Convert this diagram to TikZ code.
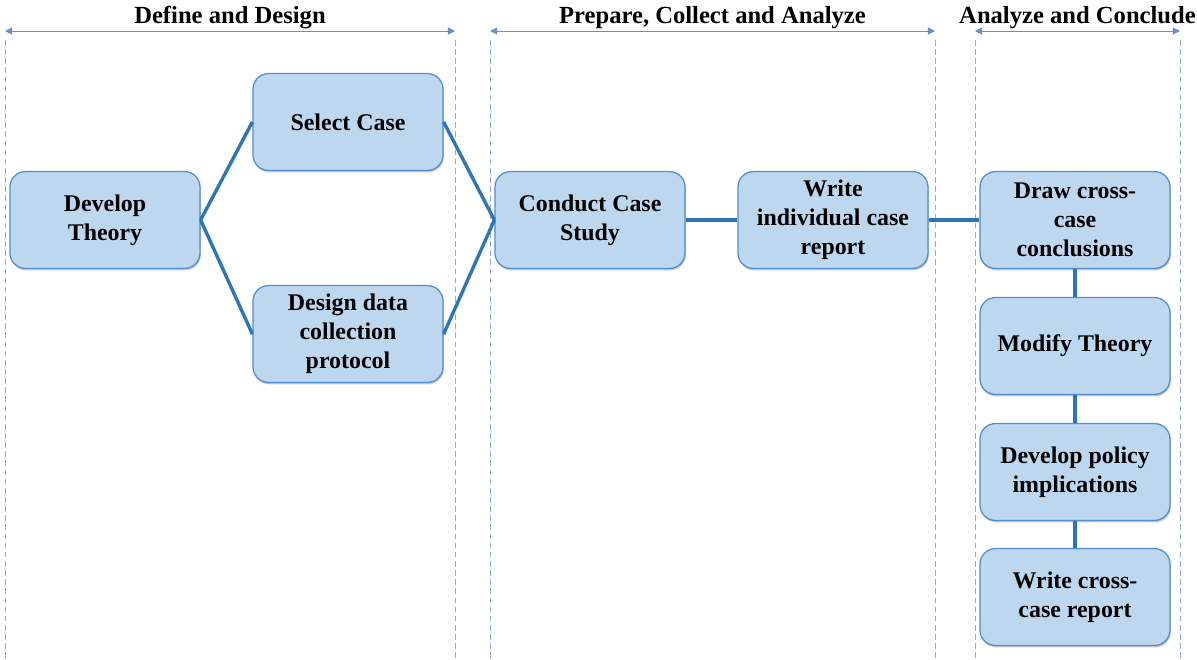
\documentclass[tikz,border=0pt]{standalone}
\usepackage{fontspec}
\setmainfont{Liberation Serif}
\usetikzlibrary{shadows,arrows.meta}
\definecolor{boxfill}{HTML}{BDD7EE}
\definecolor{boxline}{HTML}{4F8FD0}
\definecolor{linkblue}{HTML}{2E75B6}
\definecolor{guideblue}{HTML}{8FAADC}
\definecolor{spanblue}{HTML}{4472C4}
\begin{document}
\begin{tikzpicture}[
  x=0.025cm, y=-0.025cm,
  font=\fontsize{17}{20.6}\selectfont\bfseries,
  step box/.style={draw=boxline, line width=0.9pt, fill=boxfill, rounded corners=11pt,
    minimum width=4.75cm, minimum height=2.42cm, align=center, inner sep=2pt,
    drop shadow={shadow xshift=0.6pt, shadow yshift=-1.4pt, opacity=0.35, fill=black!60}},
  link/.style={linkblue, line width=2.4pt},
  guide/.style={guideblue, line width=0.5pt, dash pattern=on 4pt off 2.5pt},
  span/.style={{Triangle[length=5pt,width=5pt]}-{Triangle[length=5pt,width=5pt]}, spanblue!80, line width=0.7pt},
  phase/.style={text=black, font=\fontsize{17.5}{20}\selectfont\bfseries, anchor=south, inner sep=1pt}
]
\useasboundingbox (0,0) rectangle (1197,659);

% Column x positions for the boxes
\def\cola{105}
\def\colb{348}
\def\colc{590}
\def\cold{833}
\def\cole{1075}

% Phase boundaries (dashed guides) and the arrows above them
\foreach \xl/\xr/\ph/\nm in {5/455/Define and Design/define,
                             490/935/{Prepare, Collect and Analyze}/prepare,
                             975/1180/Analyze and Conclude/conclude}{
  \coordinate (\nm-l) at (\xl, 31);
  \coordinate (\nm-r) at (\xr, 31);
  \draw[guide] (\xl, 40) -- (\xl, 659);
  \draw[guide] (\xr, 40) -- (\xr, 659);
  \draw[span] (\nm-l) -- node[phase, above=0pt] {\ph} (\nm-r);
}

% Boxes
\node[step box] (theory)  at (\cola, 220) {Develop\\Theory};
\node[step box] (select)  at (\colb, 122) {Select Case};
\node[step box] (design)  at (\colb, 334) {Design data\\collection\\protocol};
\node[step box] (conduct) at (\colc, 220) {Conduct Case\\Study};
\node[step box] (report)  at (\cold, 220) {Write\\individual case\\report};
\node[step box] (draw)    at (\cole, 220) {Draw cross-\\case\\conclusions};
\node[step box] (modify)  at (\cole, 346) {Modify Theory};
\node[step box] (policy)  at (\cole, 472) {Develop policy\\implications};
\node[step box] (cross)   at (\cole, 597) {Write cross-\\case report};

% Connectors
\draw[link] (theory.east) -- (select.west);
\draw[link] (theory.east) -- (design.west);
\draw[link] (select.east) -- (conduct.west);
\draw[link] (design.east) -- (conduct.west);
\draw[link] (conduct) -- (report);
\draw[link] (report) -- (draw);
\draw[link] (draw) -- (modify);
\draw[link] (modify) -- (policy);
\draw[link] (policy) -- (cross);

\end{tikzpicture}
\end{document}
